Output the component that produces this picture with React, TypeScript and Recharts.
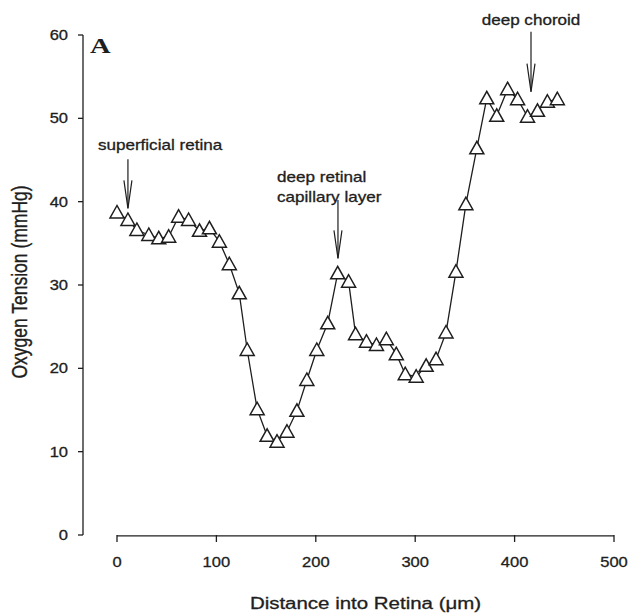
import React from 'react';
import { LineChart, Line, XAxis, YAxis, ReferenceLine, ReferenceDot, Label } from 'recharts';

// Distance into retina (µm) of each measurement
const distance = [0, 11, 20, 32, 42, 52, 62, 72, 83, 93, 103, 113, 123, 131, 141, 151, 161, 171, 181, 191, 201, 212, 222, 233, 240, 251, 261, 271, 281, 290, 301, 311, 321, 331, 341, 351, 362, 372, 382, 393, 403, 413, 423, 433, 443];
// Oxygen tension (mmHg)
const tension = [38.7, 37.8, 36.6, 36.0, 35.6, 35.8, 38.2, 37.8, 36.5, 36.8, 35.2, 32.5, 29.0, 22.2, 15.1, 11.9, 11.2, 12.4, 14.9, 18.6, 22.2, 25.4, 31.4, 30.4, 24.1, 23.2, 22.8, 23.5, 21.7, 19.3, 19.0, 20.3, 21.1, 24.3, 31.6, 39.7, 46.4, 52.4, 50.3, 53.5, 52.3, 50.2, 50.9, 52.0, 52.3];

const xTicks = [0, 100, 200, 300, 400, 500];
const yTicks = [0, 10, 20, 30, 40, 50, 60];

const xLabel = 'Distance into Retina (μm)';
const yLabel = 'Oxygen Tension (mmHg)';
const panelLetter = 'A';

// annotation texts
const labelSuperficial = 'superficial retina';
const labelDeep1 = 'deep retinal';
const labelDeep2 = 'capillary layer';
const labelChoroid = 'deep choroid';

const data = distance.map((d, i) => ({ distance: d, tension: tension[i] }));

const INK = '#1e1e1e';
const SANS = 'Liberation Sans, Arial, Helvetica, sans-serif';
const SERIF = 'Liberation Serif, Times New Roman, serif';
const STRETCH = 1.22;

const sText = (x: number, y: number, text: string, size: number, anchor: string, opts: any = {}) => (
  <text
    transform={`translate(${x},${y}) scale(${opts.scale ?? STRETCH},1)${opts.rotate ? ` rotate(${opts.rotate})` : ''}`}
    textAnchor={anchor as any}
    fontSize={size}
    fontFamily={opts.family ?? SANS}
    fontWeight={opts.weight ?? 'normal'}
    fill={INK}
    stroke={opts.weight === 'bold' ? 'none' : INK}
    strokeWidth={0.3}
  >
    {text}
  </text>
);

const Triangle = (props: any) => {
  const { cx, cy, index } = props;
  if (cx == null || cy == null) return <g key={`t-${index}`} />;
  const pts = `${cx},${cy - 7} ${cx - 7},${cy + 5.5} ${cx + 7},${cy + 5.5}`;
  return <polygon key={`t-${index}`} points={pts} fill="#fff" stroke={INK} strokeWidth={1.5} />;
};

const XTick = (props: any) => {
  const { x, y, payload } = props;
  return <g>{sText(x, y + 25, String(payload.value), 14, 'middle', { scale: 1.18 })}</g>;
};

const YTick = (props: any) => {
  const { x, y, payload } = props;
  return <g>{sText(x, y + 5, String(payload.value), 14, 'end', { scale: 1.18 })}</g>;
};

const ArrowHead = (props: any) => {
  const { cx, cy } = props;
  if (cx == null) return <g />;
  return (
    <path
      d={`M${cx - 4},${cy - 28} L${cx},${cy} L${cx + 4},${cy - 28}`}
      fill="none"
      stroke={INK}
      strokeWidth={1.2}
    />
  );
};

const textShape = (text: string, size: number, anchor: string, opts: any = {}) => (props: any) => {
  const { cx, cy } = props;
  if (cx == null) return <g />;
  return <g>{sText(cx, cy, text, size, anchor, opts)}</g>;
};

const XLabelContent = (props: any) => {
  const vb = props.viewBox || { x: 83, y: 535, width: 531, height: 60 };
  return <g>{sText(vb.x + vb.width / 2 + 17, vb.y + 74, xLabel, 16, 'middle', { scale: 1.28 })}</g>;
};

const YLabelContent = (props: any) => {
  const vb = props.viewBox || { x: 0, y: 35, width: 83, height: 500 };
  return (
    <g>
      <text
        transform={`translate(${vb.x + 27},${vb.y + vb.height / 2 - 3}) scale(1.25,1) rotate(-90)`}
        textAnchor="middle"
        fontSize={17.5}
        fontFamily={SANS}
        fill={INK}
        stroke={INK}
        strokeWidth={0.3}
      >
        {yLabel}
      </text>
    </g>
  );
};

export default function App() {
  return (
    <div style={{ position: 'absolute', left: 0, top: 0, width: 633, height: 613, background: '#fff' }}>
      <LineChart width={633} height={613} data={data} margin={{ top: 35, right: 19, bottom: 18, left: 0 }}>
        <XAxis
          dataKey="distance"
          type="number"
          domain={[-34.2, 500]}
          ticks={xTicks}
          interval={0}
          axisLine={false}
          tickLine={{ stroke: INK, strokeWidth: 1.3 }}
          tickSize={7}
          tickMargin={0}
          height={60}
          tick={<XTick />}
        >
          <Label content={<XLabelContent />} />
        </XAxis>
        <YAxis
          type="number"
          domain={[0, 60]}
          ticks={yTicks}
          interval={0}
          width={83}
          axisLine={{ stroke: INK, strokeWidth: 1.3 }}
          tickLine={{ stroke: INK, strokeWidth: 1.3 }}
          tickSize={5}
          tickMargin={10}
          tick={<YTick />}
        >
          <Label content={<YLabelContent />} />
        </YAxis>

        <ReferenceLine
          segment={[{ x: 0, y: -0.1 }, { x: 500, y: -0.1 }]}
          stroke={INK}
          strokeWidth={1.3}
          ifOverflow="visible"
        />

        {/* arrows */}
        <ReferenceLine segment={[{ x: 11, y: 45.1 }, { x: 11, y: 39.2 }]} stroke={INK} strokeWidth={1.2} ifOverflow="visible" />
        <ReferenceDot x={11} y={39.2} ifOverflow="visible" shape={ArrowHead} />
        <ReferenceLine segment={[{ x: 222.3, y: 40.2 }, { x: 222.3, y: 33.2 }]} stroke={INK} strokeWidth={1.2} ifOverflow="visible" />
        <ReferenceDot x={222.3} y={33.2} ifOverflow="visible" shape={ArrowHead} />
        <ReferenceLine segment={[{ x: 416.5, y: 60.4 }, { x: 416.5, y: 53.2 }]} stroke={INK} strokeWidth={1.2} ifOverflow="visible" />
        <ReferenceDot x={416.5} y={53.2} ifOverflow="visible" shape={ArrowHead} />

        {/* annotation texts */}
        <ReferenceDot x={43.3} y={46.2} ifOverflow="visible" shape={textShape(labelSuperficial, 14, 'middle')} />
        <ReferenceDot x={161} y={42.4} ifOverflow="visible" shape={textShape(labelDeep1, 14, 'start')} />
        <ReferenceDot x={161} y={40.0} ifOverflow="visible" shape={textShape(labelDeep2, 14, 'start')} />
        <ReferenceDot x={416.5} y={61.2} ifOverflow="visible" shape={textShape(labelChoroid, 14, 'middle')} />
        <ReferenceDot
          x={-27.2}
          y={57.8}
          ifOverflow="visible"
          shape={textShape(panelLetter, 22, 'start', { family: SERIF, weight: 'bold', scale: 1.3 })}
        />

        <Line
          dataKey="tension"
          stroke={INK}
          strokeWidth={1.3}
          dot={Triangle}
          activeDot={false}
          isAnimationActive={false}
        />
      </LineChart>
    </div>
  );
}
